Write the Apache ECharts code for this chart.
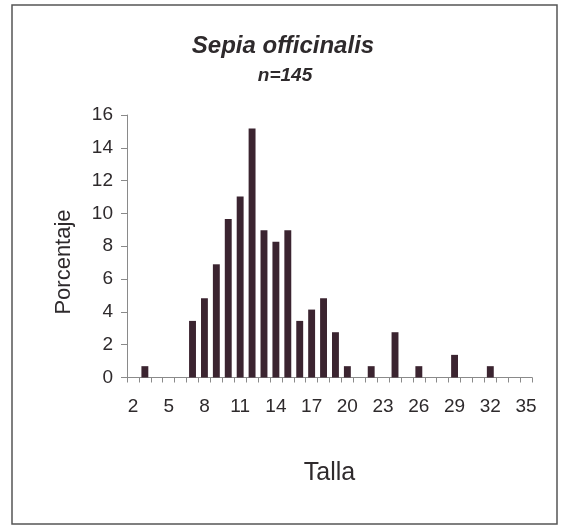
<!DOCTYPE html>
<html>
<head>
<meta charset="utf-8">
<script src="https://cdn.jsdelivr.net/npm/echarts@6/dist/echarts.min.js"></script>
<style>
html,body{margin:0;padding:0;background:#fff;}
#chart{width:562px;height:526px;}
</style>
</head>
<body>
<div id="chart"></div>
<script>
// Size classes (Talla)
var categories = ['2','3','4','5','6','7','8','9','10','11','12','13','14','15','16','17','18','19','20','21','22','23','24','25','26','27','28','29','30','31','32','33','34','35'];
// Percentage per size class (n = 145)
var percentages = [0, 0.69, 0, 0, 0, 3.45, 4.83, 6.90, 9.66, 11.03, 15.17, 8.97, 8.28, 8.97, 3.45, 4.14, 4.83, 2.76, 0.69, 0, 0.69, 0, 2.76, 0, 0.69, 0, 0, 1.38, 0, 0, 0.69, 0, 0, 0];
var yTicks = [0, 2, 4, 6, 8, 10, 12, 14, 16];

var titleText = 'Sepia officinalis';
var subtitleText = 'n=145';
var xName = 'Talla';
var yName = 'Porcentaje';

var chart = echarts.init(document.getElementById('chart'), null, {renderer: 'canvas'});
var textColor = '#2e2a2c';
var axisColor = '#8a8a8a';
var ff = '"Liberation Sans", Arial, sans-serif';
chart.setOption({
  animation: false,
  backgroundColor: '#ffffff',
  graphic: [
    {type: 'rect', shape: {x: 12, y: 5, width: 545, height: 519},
     style: {fill: 'none', stroke: '#555', lineWidth: 1.5}, z: -1},
    {type: 'text', x: 283, y: 46,
     style: {text: titleText, fill: textColor, font: 'italic bold 24px ' + ff, textAlign: 'center', textVerticalAlign: 'middle'}},
    {type: 'text', x: 285, y: 76,
     style: {text: subtitleText, fill: textColor, font: 'italic bold 19px ' + ff, textAlign: 'center', textVerticalAlign: 'middle'}},
    {type: 'text', x: 64, y: 262, rotation: Math.PI / 2,
     style: {text: yName, fill: textColor, font: '22px ' + ff, textAlign: 'center', textVerticalAlign: 'middle'}}
  ],
  grid: {left: 127, right: 30, top: 115, bottom: 148.5, containLabel: false},
  xAxis: {
    type: 'category',
    data: categories,
    boundaryGap: true,
    name: xName,
    nameLocation: 'middle',
    nameGap: 83,
    nameTextStyle: {color: textColor, fontSize: 25, fontFamily: ff},
    axisLine: {lineStyle: {color: axisColor, width: 1}},
    axisTick: {show: true, interval: 0, alignWithLabel: false, length: 5, inside: false, lineStyle: {color: axisColor}},
    axisLabel: {interval: 2, color: textColor, fontSize: 19, margin: 20, fontFamily: ff},
    splitLine: {show: false}
  },
  yAxis: {
    type: 'value',
    min: yTicks[0],
    max: yTicks[yTicks.length - 1],
    interval: 2,
    axisLine: {show: true, lineStyle: {color: axisColor, width: 1}},
    axisTick: {show: true, length: 6, inside: false, lineStyle: {color: axisColor}},
    axisLabel: {color: textColor, fontSize: 19, margin: 14, fontFamily: ff},
    splitLine: {show: false}
  },
  series: [{
    type: 'bar',
    data: percentages,
    barWidth: '58%',
    itemStyle: {color: '#3b2430'}
  }]
});
</script>
</body>
</html>
